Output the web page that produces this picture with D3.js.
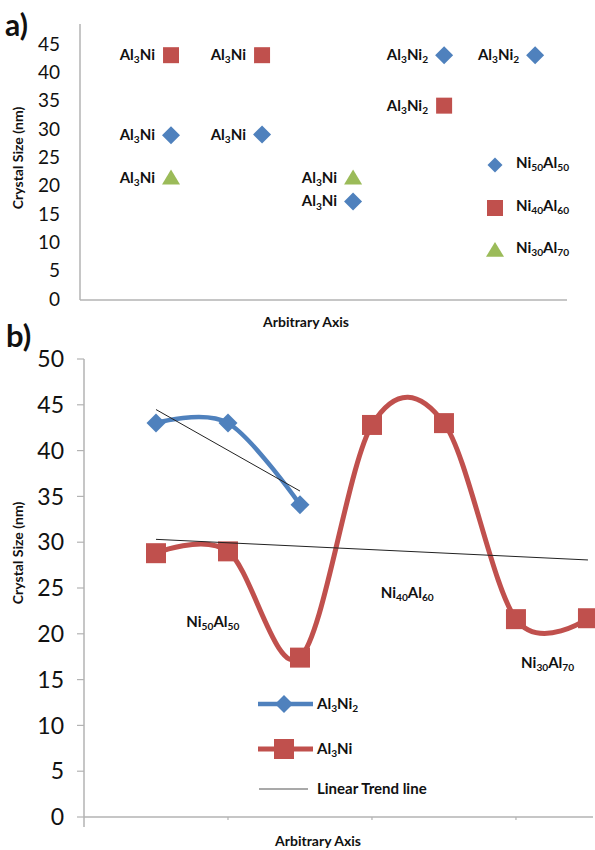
<!DOCTYPE html>
<html>
<head>
<meta charset="utf-8">
<script src="https://cdn.jsdelivr.net/npm/d3@7"></script>
<style>
  body{margin:0;background:#fff}
  svg{display:block}
  text{font-family:Lato,'Open Sans',sans-serif;fill:#111}
</style>
</head>
<body>
<svg id="chart" width="595" height="850"></svg>
<script>
// ---- panel a data (scatter of phases per alloy) ----
var alloyNames = ['Ni50Al50', 'Ni40Al60', 'Ni30Al70']
var ni50X = [1, 2, 3, 4, 5]
var ni50Vals = [28.9, 29, 17.2, 43, 43]
var ni50Phase = ['Al3Ni', 'Al3Ni', 'Al3Ni', 'Al3Ni2', 'Al3Ni2']
var ni40X = [1, 2, 4]
var ni40Vals = [43, 43, 34.1]
var ni40Phase = ['Al3Ni', 'Al3Ni', 'Al3Ni2']
var ni30X = [1, 3]
var ni30Vals = [21.4, 21.4]
var ni30Phase = ['Al3Ni', 'Al3Ni']
var aTicks = [0, 5, 10, 15, 20, 25, 30, 35, 40, 45]

// ---- panel b data (smoothed lines) ----
var al3ni2X = [1, 2, 3]
var al3ni2Vals = [43, 43, 34.1]
var al3niX = [1, 2, 3, 4, 5, 6, 7]
var al3niVals = [28.8, 29, 17.4, 42.8, 43, 21.6, 21.7]
var bTicks = [0, 5, 10, 15, 20, 25, 30, 35, 40, 45, 50]
var bXTicks = [2, 4, 6]
var noteText = ['Ni50Al50', 'Ni40Al60', 'Ni30Al70']
var noteX = [1.79, 4.49, 6.44]
var noteY = [21.3, 24.5, 16.8]

var blue = '#4F81BD', red = '#C0504D', green = '#9BBB59', axisGrey = '#B3B3B3'

var svg = d3.select('#chart')

// write formula with subscript digits
function chem(txt, str, fs) {
  var shift = 0
  str.match(/\d+|\D+/g).forEach(function(p) {
    var t = txt.append('tspan').text(p)
    if (/\d/.test(p)) {
      t.attr('font-size', fs * 0.68).attr('dy', fs * 0.22 - shift)
      shift = fs * 0.22
    } else {
      t.attr('dy', -shift)
      shift = 0
    }
  })
}

var diamond = function(r) { return 'M0,' + (-r) + 'L' + r + ',0L0,' + r + 'L' + (-r) + ',0Z' }
var square = function(r) { return 'M' + (-r) + ',' + (-r) + 'h' + 2 * r + 'v' + 2 * r + 'h' + (-2 * r) + 'Z' }
var triangle = function(r) { return 'M0,' + (-r * 0.9) + 'L' + r + ',' + r * 0.75 + 'L' + (-r) + ',' + r * 0.75 + 'Z' }

// ================= panel a =================
var xa = d3.scaleLinear().domain([0, 5.35]).range([80, 567])
var ya = d3.scaleLinear().domain([0, 48.5]).range([299, 24])

var ga = svg.append('g')
ga.append('line').attr('x1', xa(0)).attr('x2', xa(0)).attr('y1', ya(48.5)).attr('y2', ya(0) + 1)
  .attr('stroke', axisGrey).attr('stroke-width', 1.5)
ga.append('line').attr('x1', xa(0)).attr('x2', xa(5.35)).attr('y1', ya(0) + 1).attr('y2', ya(0) + 1)
  .attr('stroke', axisGrey).attr('stroke-width', 1.5)

ga.selectAll('.ta').data(aTicks).enter().append('text')
  .attr('x', 60).attr('y', function(d) { return ya(d) }).attr('dy', '0.36em')
  .attr('text-anchor', 'end').attr('font-size', 19).text(function(d) { return d })

var aSeries = [
  {x: ni50X, v: ni50Vals, ph: ni50Phase, shape: diamond, r: 9, c: blue},
  {x: ni40X, v: ni40Vals, ph: ni40Phase, shape: square, r: 8, c: red},
  {x: ni30X, v: ni30Vals, ph: ni30Phase, shape: triangle, r: 9, c: green}
]
aSeries.forEach(function(s) {
  s.x.forEach(function(xv, i) {
    ga.append('path').attr('d', s.shape(s.r)).attr('fill', s.c)
      .attr('transform', 'translate(' + xa(xv) + ',' + ya(s.v[i]) + ')')
    var t = ga.append('text').attr('x', xa(xv) - 16).attr('y', ya(s.v[i]) + 5)
      .attr('text-anchor', 'end').attr('font-size', 15).attr('font-weight', 'bold')
    chem(t, s.ph[i], 15)
  })
})

// legend a
var legA = [165, 208, 250]
aSeries.forEach(function(s, i) {
  ga.append('path').attr('d', s.shape(i == 0 ? 7.5 : s.r)).attr('fill', s.c)
    .attr('transform', 'translate(495,' + legA[i] + ')')
  var t = ga.append('text').attr('x', 516).attr('y', legA[i] + 3)
    .attr('font-size', 15).attr('font-weight', 'bold')
  chem(t, alloyNames[i], 15)
})

ga.append('text').attr('x', 306).attr('y', 327).attr('text-anchor', 'middle')
  .attr('font-size', 14).attr('font-weight', 'bold').text('Arbitrary Axis')
ga.append('text').attr('transform', 'translate(23,158) rotate(-90)').attr('text-anchor', 'middle')
  .attr('font-size', 14).attr('font-weight', 'bold').text('Crystal Size (nm)')
ga.append('text').attr('x', 5).attr('y', 36).attr('font-size', 30).attr('font-weight', 'bold').text('a)')

// ================= panel b =================
var xb = d3.scaleLinear().domain([0, 7.07]).range([84, 593])
var yb = d3.scaleLinear().domain([0, 50]).range([817, 359])

var gb = svg.append('g')
gb.append('line').attr('x1', xb(0)).attr('x2', xb(0)).attr('y1', yb(50)).attr('y2', yb(0) + 10)
  .attr('stroke', axisGrey).attr('stroke-width', 1.5)
gb.append('line').attr('x1', xb(0)).attr('x2', xb(7.07)).attr('y1', yb(0)).attr('y2', yb(0))
  .attr('stroke', axisGrey).attr('stroke-width', 1.5)
gb.selectAll('.tk').data(bTicks).enter().append('line')
  .attr('x1', xb(0) - 7).attr('x2', xb(0)).attr('y1', function(d) { return yb(d) }).attr('y2', function(d) { return yb(d) })
  .attr('stroke', axisGrey).attr('stroke-width', 1.2)
gb.selectAll('.xt').data(bXTicks).enter().append('line')
  .attr('x1', function(d) { return xb(d) }).attr('x2', function(d) { return xb(d) })
  .attr('y1', yb(0)).attr('y2', yb(0) + 3).attr('stroke', axisGrey).attr('stroke-width', 1.2)
gb.selectAll('.tb').data(bTicks).enter().append('text')
  .attr('x', 64).attr('y', function(d) { return yb(d) }).attr('dy', '0.36em')
  .attr('text-anchor', 'end').attr('font-size', 23).text(function(d) { return d })

var smooth = d3.line()
  .x(function(d) { return xb(d[0]) }).y(function(d) { return yb(d[1]) })
  .curve(d3.curveCardinal.tension(0))

var bluePts = d3.zip(al3ni2X, al3ni2Vals)
var redPts = d3.zip(al3niX, al3niVals)

gb.append('path').attr('d', smooth(bluePts)).attr('fill', 'none')
  .attr('stroke', blue).attr('stroke-width', 4.5)
gb.append('path').attr('d', smooth(redPts)).attr('fill', 'none')
  .attr('stroke', red).attr('stroke-width', 5)

gb.selectAll('.bd').data(bluePts).enter().append('path')
  .attr('d', diamond(9.5)).attr('fill', blue)
  .attr('transform', function(d) { return 'translate(' + xb(d[0]) + ',' + yb(d[1]) + ')' })
gb.selectAll('.rs').data(redPts).enter().append('path')
  .attr('d', square(10)).attr('fill', red)
  .attr('transform', function(d) { return 'translate(' + xb(d[0]) + ',' + yb(d[1]) + ')' })

// least squares trend lines
function trend(pts) {
  var mx = d3.mean(pts, function(d) { return d[0] }), my = d3.mean(pts, function(d) { return d[1] })
  var sxy = d3.sum(pts, function(d) { return (d[0] - mx) * (d[1] - my) })
  var sxx = d3.sum(pts, function(d) { return (d[0] - mx) * (d[0] - mx) })
  var b = sxy / sxx, a = my - b * mx
  var x0 = pts[0][0], x1 = pts[pts.length - 1][0]
  return [[x0, a + b * x0], [x1, a + b * x1]]
}
var straight = d3.line().x(function(d) { return xb(d[0]) }).y(function(d) { return yb(d[1]) })
;[bluePts, redPts].forEach(function(p) {
  gb.append('path').attr('d', straight(trend(p))).attr('stroke', '#222').attr('stroke-width', 1).attr('fill', 'none')
})

noteText.forEach(function(n, i) {
  var t = gb.append('text').attr('x', xb(noteX[i])).attr('y', yb(noteY[i]) + 5)
    .attr('text-anchor', 'middle').attr('font-size', 15).attr('font-weight', 'bold')
  chem(t, n, 15)
})

// legend b
var legB = [704, 749, 789]
gb.append('line').attr('x1', 258).attr('x2', 313).attr('y1', legB[0]).attr('y2', legB[0]).attr('stroke', blue).attr('stroke-width', 4.5)
gb.append('path').attr('d', diamond(9)).attr('fill', blue).attr('transform', 'translate(284,' + legB[0] + ')')
gb.append('line').attr('x1', 258).attr('x2', 313).attr('y1', legB[1]).attr('y2', legB[1]).attr('stroke', red).attr('stroke-width', 5)
gb.append('path').attr('d', square(10)).attr('fill', red).attr('transform', 'translate(284,' + legB[1] + ')')
gb.append('line').attr('x1', 259).attr('x2', 308).attr('y1', legB[2]).attr('y2', legB[2]).attr('stroke', '#555').attr('stroke-width', 1.2)
var legNames = ['Al3Ni2', 'Al3Ni', 'Linear Trend line']
legNames.forEach(function(n, i) {
  var t = gb.append('text').attr('x', 317).attr('y', legB[i] + 5).attr('font-size', 15).attr('font-weight', 'bold')
  chem(t, n, 15)
})

gb.append('text').attr('x', 318).attr('y', 846).attr('text-anchor', 'middle')
  .attr('font-size', 14).attr('font-weight', 'bold').text('Arbitrary Axis')
gb.append('text').attr('transform', 'translate(23,553) rotate(-90)').attr('text-anchor', 'middle')
  .attr('font-size', 14).attr('font-weight', 'bold').text('Crystal Size (nm)')
gb.append('text').attr('x', 6).attr('y', 347).attr('font-size', 31).attr('font-weight', 'bold').text('b)')
</script>
</body>
</html>
